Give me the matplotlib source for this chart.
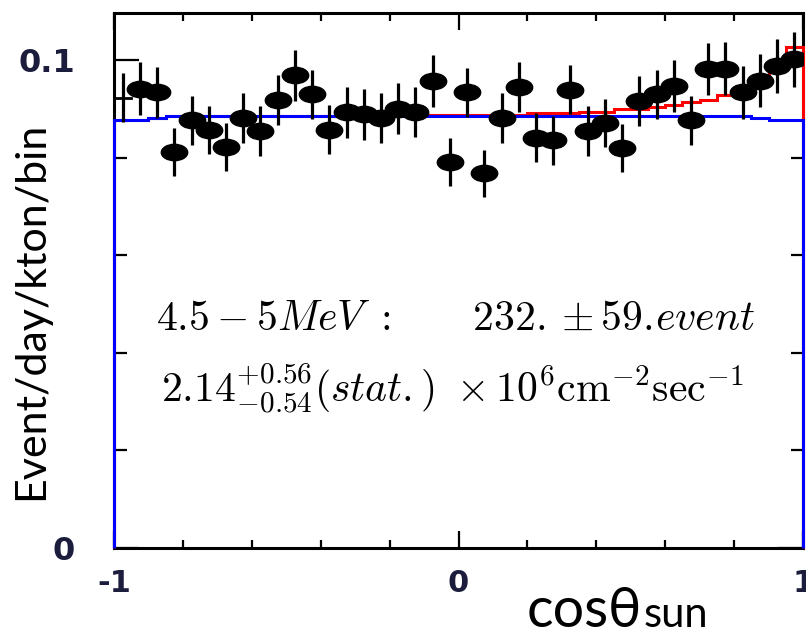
import numpy as np
import matplotlib.pyplot as plt
import matplotlib.path as mpath
from matplotlib.ticker import FixedLocator

plt.rcParams['mathtext.fontset'] = 'cm'

# 40 bins in cos(theta_sun)
edges = np.linspace(-1, 1, 41)
centers = 0.5 * (edges[:-1] + edges[1:])

# data points (event/day/kton/bin) and their errors
data = [0.0923, 0.0942, 0.0934, 0.0812, 0.0877, 0.0857, 0.0823, 0.0882, 0.0855, 0.0918,
        0.0969, 0.0930, 0.0858, 0.0893, 0.0889, 0.0882, 0.0901, 0.0894, 0.0958, 0.0791,
        0.0934, 0.0768, 0.0882, 0.0945, 0.0841, 0.0836, 0.0940, 0.0855, 0.0871, 0.0821,
        0.0916, 0.0930, 0.0947, 0.0877, 0.0982, 0.0983, 0.0934, 0.0958, 0.0988, 0.1002]
err = [0.0050, 0.0055, 0.0053, 0.0049, 0.0050, 0.0049, 0.0049, 0.0051, 0.0051, 0.0051,
       0.0052, 0.0051, 0.0050, 0.0052, 0.0052, 0.0051, 0.0052, 0.0052, 0.0053, 0.0049,
       0.0051, 0.0049, 0.0051, 0.0051, 0.0050, 0.0050, 0.0050, 0.0051, 0.0049, 0.0049,
       0.0051, 0.0051, 0.0053, 0.0050, 0.0054, 0.0054, 0.0054, 0.0054, 0.0055, 0.0056]

# background-only (blue) and background + solar (red) expectations
blue = [0.0877, 0.0877, 0.0882] + [0.0886] * 34 + [0.0882, 0.0877, 0.0877]
red = ([0.0877, 0.0877, 0.0882] + [0.0886] * 12 + [0.0888] * 9 +
       [0.0891] * 3 + [0.0895] * 2 + [0.0900] * 2 +
       [0.0904, 0.0909, 0.0914, 0.0919, 0.0928, 0.0942, 0.0961, 0.0990, 0.1027])

fig = plt.figure(figsize=(8.06, 6.35), dpi=100)
ax = fig.add_axes([114 / 806, 87 / 635, 689 / 806, 535 / 635])

ax.stairs(red, edges, baseline=0, color='#ff0000', lw=2.2, clip_on=False, zorder=3)
ax.stairs(blue, edges, baseline=0, color='#0000ff', lw=2.2, clip_on=False, zorder=4)

# ellipse shaped markers
circ = mpath.Path.unit_circle()
ell = mpath.Path(circ.vertices * [1.0, 0.62], circ.codes)
ax.errorbar(centers, data, yerr=err, fmt='none', ecolor='black', elinewidth=2.3, zorder=5)
ax.plot(centers[1:], data[1:], ls='none', marker=ell, ms=19, color='black', zorder=6)
ax.plot([edges[0], edges[1]], [data[0], data[0]], color='black', lw=2, zorder=5)

ax.set_xlim(-1, 1)
ax.set_ylim(0, 0.1097)

ax.xaxis.set_major_locator(FixedLocator([-1, 0, 1]))
ax.xaxis.set_minor_locator(FixedLocator([-0.8, -0.6, -0.4, -0.2, 0.2, 0.4, 0.6, 0.8]))
ax.yaxis.set_major_locator(FixedLocator([0, 0.1]))
ax.yaxis.set_minor_locator(FixedLocator([0.02, 0.04, 0.06, 0.08]))
ax.set_xticklabels(['-1', '0', '1'])
ax.set_yticklabels(['0', '0.1'])

ax.tick_params(axis='x', which='major', direction='in', length=12, width=1.6,
               top=True, pad=15, labelsize=22, labelcolor='#1c1c3c')
ax.tick_params(axis='x', which='minor', direction='in', length=6, width=1.6, top=True)
ax.tick_params(axis='y', which='major', direction='in', length=18, width=1.6,
               right=True, pad=28, labelsize=23, labelcolor='#1c1c3c')
ax.tick_params(axis='y', which='minor', direction='in', length=9, width=1.6, right=True)
for lab in ax.get_xticklabels() + ax.get_yticklabels():
    lab.set_fontweight('bold')

for s in ax.spines.values():
    s.set_linewidth(2.2)
    s.set_zorder(2)

ax.text(0.495, 0.43, r'$4.5-5MeV\ :\qquad 232.\pm 59.\!event$', transform=ax.transAxes,
        ha='center', va='center', fontsize=30)
ax.text(0.492, 0.30, r'$2.14^{+0.56}_{-0.54}(stat.)\ \times10^6{\rm cm}^{-2}{\rm sec}^{-1}$',
        transform=ax.transAxes, ha='center', va='center', fontsize=30)

fig.text(31 / 806, (635 - 311) / 635, 'Event/day/kton/bin', rotation=90, ha='center', va='center',
         family='Lato', fontsize=31)

t1 = fig.text(527 / 806, (635 - 627) / 635, 'cos\u03b8', family='Lato', fontsize=40,
              ha='left', va='baseline')
fig.canvas.draw()
bb = t1.get_window_extent()
fig.text(bb.x1 / 806 + 0.002, (635 - 627) / 635, 'sun', family='Lato', fontsize=30,
         ha='left', va='baseline')

fig.savefig('out.png', dpi=100)
